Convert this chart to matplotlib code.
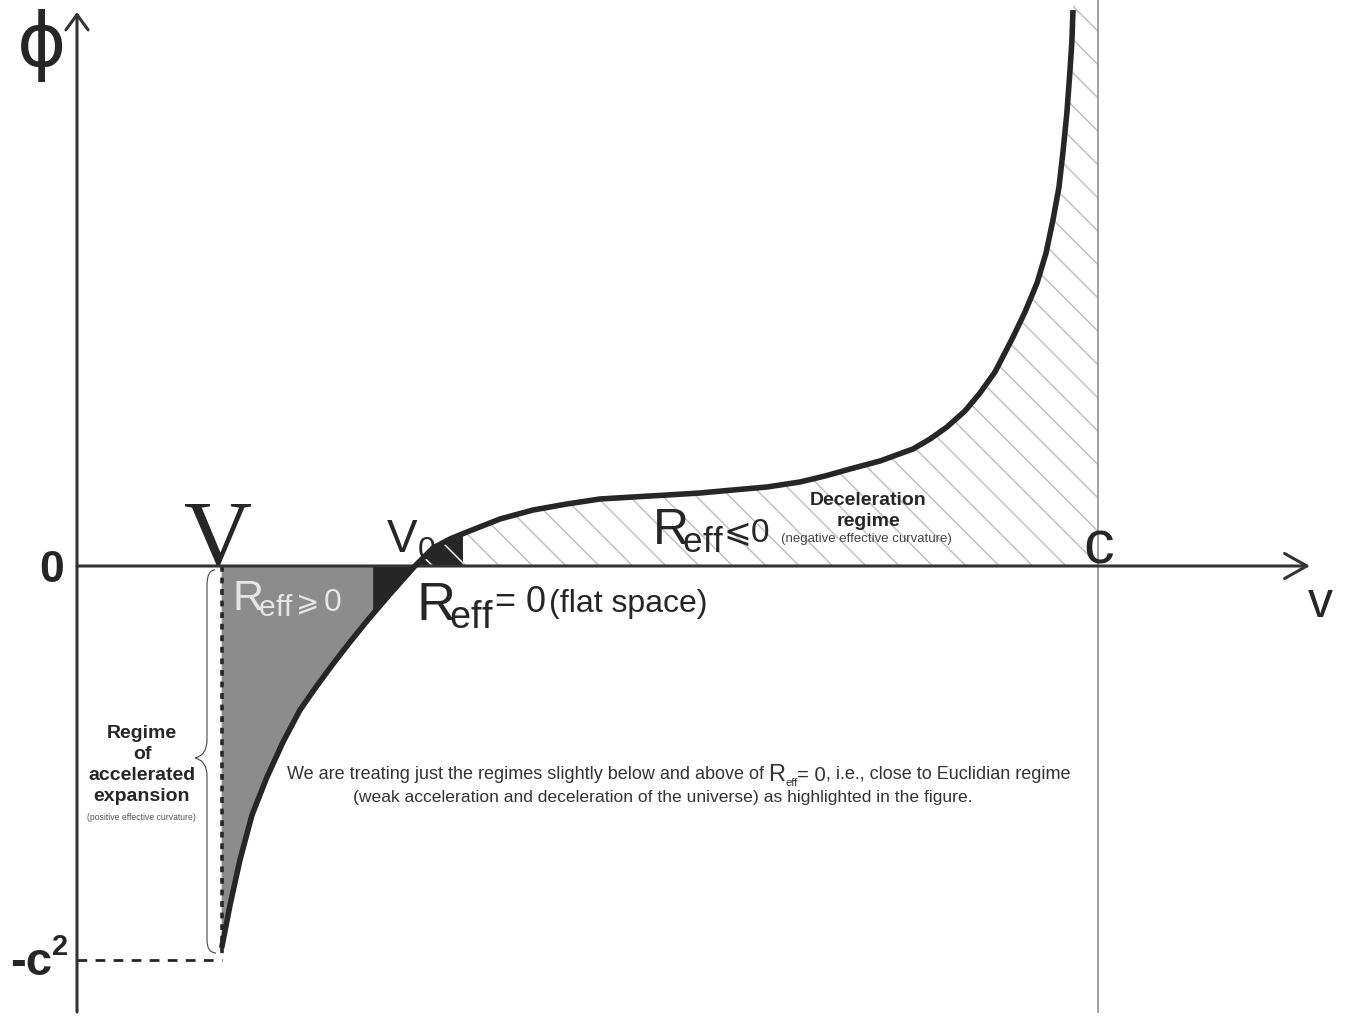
import numpy as np
import matplotlib
matplotlib.use('Agg')
import matplotlib.pyplot as plt
from matplotlib import font_manager
from matplotlib.transforms import Affine2D
from matplotlib.path import Path
from matplotlib.patches import PathPatch, Polygon

W, H = 1358, 1017

# phi(v): v in units of c, phi in units of c^2
v_curve = np.array([0.1417, 0.1499, 0.1596, 0.1714, 0.1861, 0.2018, 0.2184, 0.2341,
                    0.2507, 0.2674, 0.2840, 0.3066, 0.3310, 0.3399, 0.3487, 0.3653,
                    0.3820, 0.4143, 0.4466, 0.4799, 0.5122, 0.5446, 0.5779, 0.6102,
                    0.6425, 0.6758, 0.7081, 0.7326, 0.7571, 0.7865, 0.8188, 0.8355,
                    0.8521, 0.8697, 0.8844, 0.8991, 0.9168, 0.9285, 0.9403, 0.9491,
                    0.9559, 0.9618, 0.9657, 0.9696, 0.9726, 0.9745, 0.9755])
phi_curve = np.array([-0.9695, -0.8604, -0.7462, -0.6320, -0.5355, -0.4467, -0.3655, -0.3071,
                      -0.2487, -0.1929, -0.1396, -0.0711, 0.0, 0.0228, 0.0457, 0.0685,
                      0.0863, 0.1193, 0.1421, 0.1574, 0.1701, 0.1751, 0.1802, 0.1853,
                      0.1929, 0.2005, 0.2132, 0.2284, 0.2462, 0.2665, 0.2970, 0.3223,
                      0.3528, 0.3934, 0.4391, 0.4924, 0.5812, 0.6447, 0.7183, 0.7944,
                      0.8782, 0.9619, 1.0508, 1.1523, 1.2589, 1.3350, 1.4112])

v_V = 0.1417      # minimum speed V
v_dark = 0.290    # start of the black (near flat) band
v_0 = 0.331       # V0, where R_eff = 0
v_hatch = 0.378   # end of the black hatched band
v_c = 1.0         # speed of light
phi_min = -1.0    # -c^2
phi_top = 1.424

plt.rcParams['font.family'] = ['Liberation Sans', 'DejaVu Sans']
plt.rcParams['hatch.linewidth'] = 1.1
names = {f.name for f in font_manager.fontManager.ttflist}
narrow = next((n for n in ['Liberation Sans Narrow', 'Arial Narrow'] if n in names), None)
nfam = [narrow, 'Liberation Sans', 'DejaVu Sans'] if narrow else ['Liberation Sans', 'DejaVu Sans']

fig = plt.figure(figsize=(W / 100, H / 100), dpi=100)
ax = fig.add_axes([0, 0, 1, 1])
ax.set_xlim(-77 / 1021, 1281 / 1021)
ax.set_ylim(-451 / 394, 566 / 394)
ax.axis('off')

ink = '#262626'


def seg(a, b):
    m = (v_curve > a) & (v_curve < b)
    vs = np.r_[a, v_curve[m], b]
    ps = np.interp(vs, v_curve, phi_curve)
    return list(zip(vs, ps))


# gray region (accelerated expansion)
pts = [(v_V, 0)] + seg(v_V, v_dark) + [(v_dark, 0)]
ax.add_patch(Polygon(pts, closed=True, fc='#8c8c8c', ec='none', zorder=1))
# black band around V0
pts = [(v_dark, 0)] + seg(v_dark, v_0)
ax.add_patch(Polygon(pts, closed=True, fc=ink, ec='none', zorder=1))
pts = [(v_0, 0)] + seg(v_0, v_hatch) + [(v_hatch, 0)]
ax.add_patch(Polygon(pts, closed=True, fc=ink, ec='white', lw=0, hatch='\\', zorder=1))
# hatched deceleration region
pts = [(v_hatch, 0)] + seg(v_hatch, v_curve[-1]) + [(v_curve[-1], phi_top), (v_c, phi_top), (v_c, 0)]
ax.add_patch(Polygon(pts, closed=True, fc='none', ec='#c2c2c2', lw=0, hatch='\\', zorder=1))

# c line
ax.plot([v_c, v_c], [-1.132, phi_top + 0.01], color='#9a9a9a', lw=1.3, zorder=2)

# dashed guides
ax.plot([v_V, v_V], [0, phi_min + 0.01], color=ink, lw=2.6, dashes=(1.6, 1.6), zorder=3)
ax.plot([0, v_V], [phi_min, phi_min], color=ink, lw=2.0, dashes=(3.5, 3.0), zorder=3)

# axes with open arrow heads
arr = dict(arrowstyle='->,head_length=1.1,head_width=0.8', lw=2.2, color='#333333',
           shrinkA=0, shrinkB=0)
ax.annotate('', xy=(0, 1.406), xytext=(0, -1.132), arrowprops=arr, zorder=4)
arr2 = dict(arr, arrowstyle='->,head_length=1.6,head_width=0.9')
ax.annotate('', xy=(1.2076, 0), xytext=(0, 0), arrowprops=arr2, zorder=4)

# the curve
ax.plot(v_curve, phi_curve, color=ink, lw=4.0, solid_capstyle='butt', solid_joinstyle='round', zorder=5)

# ---- text, placed in pixel coordinates of the picture
tpx = Affine2D().scale(1, -1).translate(0, H)
r = fig.canvas.get_renderer()
REFF = r'$\mathregular{R_{\!eff}}$'


def txt(x, y, s, size, **kw):
    kw.setdefault('color', ink)
    kw.setdefault('va', 'baseline')
    return ax.text(x, y, s, fontsize=size, transform=tpx, **kw)


def chain(x, y, parts, width=None):
    def draw(k):
        out, cx = [], x
        for s, size, dy, kw in parts:
            if s == '':
                cx += size * k
                continue
            t = txt(cx, y + dy * k, s, size * k, **kw)
            cx += t.get_window_extent(r).width
            out.append(t)
        return out, cx - x
    out, w = draw(1.0)
    if width:
        for t in out:
            t.remove()
        out, w = draw(width / w)
    return out


txt(42, 66, 'ϕ', 54, ha='center', family=['DejaVu Sans'])
txt(52, 582, '0', 32, ha='center', weight='bold')
txt(10, 975, '-c', 34, weight='bold')
txt(52, 955, '2', 21, weight='bold')
txt(218, 565, 'V', 68, ha='center', family=['Liberation Serif', 'DejaVu Serif'])
txt(386, 553, r'$\mathregular{V_0}$', 33)
txt(1083, 563, 'c', 44)
txt(1308, 617, 'v', 36)

light = '#e6e6e6'
chain(232, 610, [(REFF, 31, 0, dict(color=light)), ('', 2, 0, {}),
                 ('⩾', 20, 1, dict(color=light)), ('', 4, 0, {}),
                 ('0', 23, 1, dict(color=light))])

chain(416, 620, [(REFF, 39, 0, {}), ('', 1, 0, {}), ('= 0', 26, -8, {}), ('', 3, 0, {}),
                 ('(flat space)', 23, -8, dict(family=nfam))])

chain(652, 545, [(REFF, 36, 0, {}), ('⩽0', 24, -3, {})])

txt(868, 505, 'Deceleration', 14, ha='center', weight='bold')
txt(868, 526, 'regime', 14, ha='center', weight='bold')
txt(866, 542, '(negative effective curvature)', 9.5, ha='center', color='#444444')

for s, yb in [('Regime', 738), ('of', 759), ('accelerated', 780), ('expansion', 801)]:
    txt(142, yb, s, 14, ha='center', weight='bold')
txt(141, 820, '(positive effective curvature)', 6.2, ha='center', color='#555555')

tc = '#333333'
chain(287, 779, [
    ('We are treating just the regimes slightly below and above of', 16, 0, dict(family=nfam, color=tc)),
    ('', 5, 0, {}),
    ('R', 21, 3, dict(color=tc)),
    ('eff', 10, 9, dict(color=tc)),
    ('= 0', 18, 2, dict(color=tc)),
    (', i.e., close to Euclidian regime', 16, 0, dict(family=nfam, color=tc)),
], width=785)
chain(353, 802, [
    ('(weak acceleration and deceleration of the universe) as highlighted in the figure.', 16, 0,
     dict(family=nfam, color=tc)),
], width=620)

# curly brace
brace = Path([(215, 570), (207, 570), (207, 585), (207, 740), (207, 755), (195, 758),
              (207, 761), (207, 776), (207, 940), (207, 953), (216, 953)],
             [Path.MOVETO, Path.CURVE3, Path.CURVE3, Path.LINETO, Path.CURVE3, Path.CURVE3,
              Path.CURVE3, Path.CURVE3, Path.LINETO, Path.CURVE3, Path.CURVE3])
ax.add_patch(PathPatch(brace, transform=tpx, fc='none', ec='#444444', lw=0.8, zorder=6))

fig.savefig('out.png', dpi=100)
